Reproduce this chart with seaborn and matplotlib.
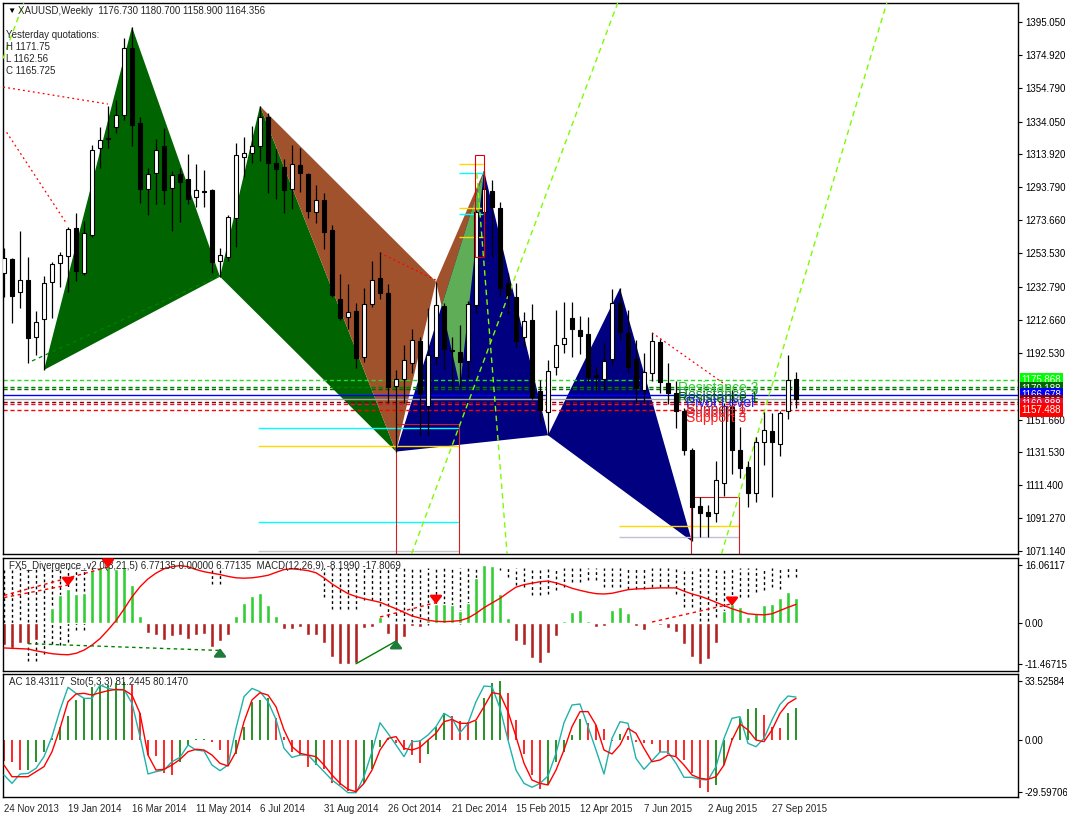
import numpy as np
import matplotlib
matplotlib.use("Agg")
import matplotlib.pyplot as plt
import matplotlib.transforms as mtransforms
from matplotlib.patches import Polygon, Rectangle
import seaborn as sns

sns.set_style("white")
plt.rcParams['font.family'] = ['Liberation Sans', 'DejaVu Sans']
plt.rcParams['axes.edgecolor'] = 'black'
plt.rcParams['axes.linewidth'] = 1.0

# weekly XAUUSD candles, week of 24 Nov 2013 .. week of 18 Oct 2015
opens = [1241.2, 1249.7, 1229.5, 1236.9, 1202.0, 1213.0, 1235.7, 1247.3, 1251.8, 1268.9,
         1241.2, 1264.4, 1317.7, 1324.2, 1331.0, 1338.0, 1379.0, 1333.0, 1292.6, 1302.4,
         1318.9, 1293.2, 1302.0, 1298.9, 1288.1, 1291.6, 1292.2, 1248.9, 1251.0, 1274.8,
         1312.6, 1315.0, 1318.9, 1336.7, 1308.7, 1306.3, 1292.6, 1307.5, 1302.0, 1278.5,
         1286.1, 1267.7, 1225.4, 1214.2, 1218.1, 1190.1, 1222.2, 1238.1, 1228.9, 1172.2,
         1176.3, 1186.1, 1199.7, 1160.0, 1189.7, 1221.2, 1194.2, 1192.8, 1187.3, 1221.8,
         1278.9, 1291.6, 1281.0, 1235.0, 1226.9, 1202.4, 1212.6, 1169.3, 1156.5, 1183.6,
         1197.7, 1213.6, 1206.5, 1203.8, 1178.7, 1176.3, 1188.5, 1222.8, 1204.4, 1188.5,
         1170.0, 1180.0, 1199.1, 1174.0, 1168.0, 1157.0, 1133.0, 1098.7, 1094.8, 1094.2,
         1113.0, 1159.5, 1133.0, 1122.4, 1106.5, 1138.1, 1144.6, 1136.5, 1157.0, 1176.73]
highs = [1256.5, 1250.3, 1267.1, 1251.2, 1218.1, 1239.5, 1247.9, 1254.2, 1269.7, 1277.9,
         1273.2, 1319.8, 1330.6, 1343.6, 1347.3, 1385.0, 1392.0, 1337.0, 1305.5, 1323.2,
         1329.9, 1304.0, 1305.5, 1314.0, 1307.9, 1304.4, 1292.6, 1256.5, 1276.7, 1321.0,
         1324.6, 1331.2, 1343.6, 1339.1, 1317.1, 1311.0, 1319.7, 1317.7, 1302.4, 1295.3,
         1290.1, 1270.8, 1241.0, 1234.6, 1222.8, 1232.0, 1248.7, 1254.0, 1234.6, 1182.0,
         1197.0, 1207.1, 1202.0, 1219.7, 1236.1, 1222.8, 1202.4, 1209.5, 1224.4, 1279.9,
         1304.0, 1298.3, 1285.0, 1241.2, 1235.0, 1217.7, 1222.4, 1176.0, 1188.1, 1218.7,
         1223.4, 1223.4, 1215.0, 1214.2, 1184.0, 1198.3, 1231.4, 1232.0, 1218.7, 1200.3,
         1192.2, 1204.4, 1200.7, 1186.0, 1175.0, 1159.0, 1134.0, 1104.4, 1099.3, 1126.3,
         1162.0, 1170.0, 1147.3, 1126.0, 1141.2, 1156.0, 1155.4, 1157.0, 1191.0, 1180.7]
lows = [1226.9, 1210.5, 1219.7, 1186.1, 1191.2, 1182.0, 1213.6, 1233.0, 1229.9, 1236.7,
        1240.1, 1263.6, 1305.9, 1317.7, 1326.9, 1335.0, 1319.0, 1284.4, 1276.7, 1283.4,
        1283.4, 1267.3, 1272.4, 1283.4, 1282.0, 1282.0, 1241.2, 1239.1, 1248.9, 1257.5,
        1300.4, 1308.5, 1310.1, 1290.6, 1286.5, 1278.3, 1280.7, 1291.2, 1274.8, 1271.8,
        1255.9, 1226.9, 1212.6, 1207.0, 1183.0, 1187.1, 1220.8, 1225.2, 1161.6, 1132.0,
        1162.0, 1180.0, 1142.0, 1142.0, 1185.0, 1182.4, 1171.8, 1171.8, 1177.0, 1216.7,
        1275.0, 1251.4, 1227.5, 1216.0, 1196.3, 1196.3, 1164.0, 1150.0, 1142.0, 1178.9,
        1192.2, 1190.0, 1192.0, 1174.8, 1170.0, 1170.0, 1185.0, 1200.3, 1180.0, 1162.0,
        1162.0, 1175.0, 1168.0, 1161.0, 1146.2, 1130.0, 1077.0, 1079.9, 1079.9, 1089.1,
        1105.0, 1118.0, 1116.0, 1097.9, 1101.4, 1124.0, 1104.0, 1129.3, 1152.0, 1158.9]
closes = [1250.3, 1227.5, 1236.9, 1201.4, 1211.1, 1235.0, 1246.7, 1252.2, 1268.1, 1242.8,
          1265.7, 1316.5, 1322.6, 1323.6, 1337.9, 1379.0, 1332.2, 1293.0, 1301.8, 1316.5,
          1292.4, 1301.2, 1297.3, 1286.9, 1292.2, 1291.2, 1248.3, 1252.2, 1275.5, 1313.6,
          1314.6, 1318.9, 1336.7, 1308.9, 1305.2, 1292.4, 1307.9, 1302.8, 1279.5, 1286.1,
          1266.7, 1227.9, 1214.0, 1217.3, 1189.5, 1222.2, 1236.9, 1229.3, 1171.8, 1176.7,
          1188.1, 1200.3, 1167.0, 1191.2, 1221.8, 1194.6, 1193.5, 1187.1, 1222.4, 1278.5,
          1292.6, 1282.0, 1232.4, 1227.9, 1199.7, 1212.0, 1165.6, 1157.5, 1181.4, 1197.3,
          1201.4, 1206.9, 1202.8, 1177.9, 1177.5, 1187.5, 1222.8, 1205.4, 1184.0, 1170.7,
          1180.5, 1199.5, 1174.8, 1168.0, 1157.0, 1133.0, 1098.3, 1094.6, 1092.8, 1114.6,
          1160.0, 1133.0, 1121.8, 1106.9, 1138.1, 1145.2, 1138.1, 1155.4, 1176.0, 1164.356]

date_ticks = [0, 8, 16, 24, 32, 40, 48, 56, 64, 72, 80, 88, 96]
date_labels = ["24 Nov 2013", "19 Jan 2014", "16 Mar 2014", "11 May 2014", "6 Jul 2014",
               "31 Aug 2014", "26 Oct 2014", "21 Dec 2014", "15 Feb 2015", "12 Apr 2015",
               "7 Jun 2015", "2 Aug 2015", "27 Sep 2015"]
price_ticks = [1395.050, 1374.920, 1354.790, 1334.050, 1313.920, 1293.790, 1273.660,
               1253.530, 1232.790, 1212.660, 1192.530, 1151.660, 1131.530, 1111.400,
               1091.270, 1071.140]

# harmonic patterns X, A, B, C, D  (bar index, price)
green_bars = [5, 16, 27, 32, 49]
green_px = [1182.0, 1392.0, 1239.1, 1343.6, 1132.0]
brown_bars = [32, 49, 54, 60, 57]
brown_px = [1343.6, 1132.0, 1236.1, 1304.0, 1171.8]
navy_bars = [49, 60, 68, 77, 86]
navy_px = [1132.0, 1304.0, 1142.0, 1232.0, 1077.0]

# pivot levels
level_px = [1175.868, 1171.75, 1170.188, 1166.678, 1164.356, 1162.56, 1160.888, 1157.488]
level_col = ['#22DD22', '#008000', '#006400', '#0000FF', '#A0A0A0', '#8B0000', '#DC143C', '#FF0000']
level_ls = ['--', '--', '--', '-', '-', '--', '--', '--']
level_names = ["Resistance 3", "Resistance 2", "Resistance 1", "Pivot Level", None,
               "Support 1", "Support 2", "Support 3"]
level_name_col = ['#32CD32', '#2E8B57', '#006400', '#2020FF', None, '#B22222', '#E0304E', '#FF2020']
tag_px = [1175.868, 1170.188, 1166.678, 1162.56, 1160.888, 1157.488]
tag_col = ['#00FF00', '#006400', '#0000FF', '#8B0000', '#DC143C', '#FF0000']

# FX5 divergence histogram + red line + dotted marks
div_hist = [-6.3, -7.0, -5.7, -6.0, -4.7, 0.3, 4.2, 7.6, 9.3, 8.1,
            8.3, 14.7, 15.5, 15.9, 14.9, 15.6, 10.4, 2.0, -2.8, -3.3,
            -4.9, -3.8, -3.5, -4.5, -3.5, -3.1, -6.6, -5.1, -3.3, 1.8,
            5.6, 7.4, 8.2, 5.0, 2.0, -1.7, -1.7, -1.2, -3.5, -3.5,
            -5.7, -9.5, -11.4, -11.4, -11.3, -1.4, -1.2, 1.6, -3.1, -6.3,
            -4.0, -1.0, -1.2, 0.9, 5.3, 5.3, 5.0, 3.3, 5.6, 12.5,
            16.06, 15.7, 8.1, 1.4, -5.2, -6.2, -9.8, -11.2, -8.3, -3.8,
            0.6, 3.1, 3.6, 0.6, -1.2, -1.0, 3.6, 4.5, 2.8, -1.0,
            -2.1, 0.3, -0.7, -1.5, -2.7, -5.8, -9.6, -11.47, -10.0, -5.6,
            3.2, 5.3, 4.4, 1.6, 2.7, 5.0, 5.3, 6.9, 8.6, 6.77]
div_line = [-7.0, -7.1, -7.2, -7.3, -7.8, -8.2, -8.6, -8.8, -8.9, -8.5,
            -7.6, -6.2, -4.4, -2.0, 0.6, 3.8, 7.2, 10.0, 12.2, 13.8,
            15.0, 15.6, 15.9, 15.6, 14.8, 14.2, 13.8, 13.4, 12.9, 12.5,
            12.4, 12.5, 12.8, 13.2, 14.0, 14.8, 15.0, 14.8, 14.5, 13.9,
            12.5, 10.8, 9.4, 8.1, 7.3, 6.7, 6.2, 5.7, 4.8, 3.9,
            2.9, 1.9, 1.3, 0.7, 0.4, 0.3, 0.4, 0.6, 1.3, 2.6,
            4.2, 5.5, 6.8, 8.4, 9.9, 10.6, 11.0, 11.4, 11.6, 11.1,
            10.4, 9.6, 9.0, 8.5, 8.1, 8.0, 8.2, 8.7, 9.2, 9.4,
            9.5, 9.6, 9.7, 9.7, 9.7, 8.8, 8.0, 7.4, 6.6, 5.7,
            4.8, 3.9, 3.2, 2.5, 2.3, 2.2, 2.5, 3.4, 4.3, 5.1]
nan = float('nan')
dot_low = [-6.3, -6.3, -5.4, -10.7, -10.7, -8.6, -5.8, -6.3, -5.4, -2.1,
           -2.1, 14.6, nan, nan, nan, nan, nan, nan, nan, nan,
           nan, nan, nan, nan, nan, nan, 10.8, 10.8, nan, nan,
           nan, nan, nan, nan, nan, nan, nan, nan, nan, nan,
           7.1, 3.9, 3.9, 3.9, 3.9, 6.2, 6.2, 4.8, 1.6, 0.6,
           0.6, 0.2, 0.2, -0.7, 0.2, 0.6, 3.4, -0.3, 0.6, 3.4,
           14.6, 14.6, 14.6, 12.7, 10.4, 9.9, 7.6, 7.6, 8.1, 9.0,
           9.9, 11.3, 11.3, 11.8, 11.8, 9.9, 9.9, 9.9, 9.5, 9.5,
           9.5, 9.9, 9.9, 9.9, 8.1, 4.4, 4.4, 0.6, 0.6, 1.6,
           3.0, 6.2, 7.1, 7.1, 8.5, 9.0, 9.9, 9.5, 12.7, 12.7]

# accelerator oscillator + stochastic (5,3,3)
ac_vals = [-12.0, -12.3, -17.1, -17.0, -12.3, -6.6, 1.0, 7.6, 13.6, 22.7,
           23.7, 30.3, 30.8, 31.5, 32.2, 33.0, 31.3, 15.2, -8.5, -9.0,
           -18.9, -19.5, -12.3, -2.8, 0.5, 0.8, -1.0, -5.7, -14.2, -7.6,
           7.6, 21.8, 22.7, 23.7, 12.3, 1.9, -6.6, -8.5, -15.2, -14.0,
           -16.1, -24.6, -25.5, -29.0, -29.5, -24.6, -16.1, -4.0, 1.0, -1.9,
           -5.7, -8.5, -12.9, -7.6, 7.6, 15.2, 13.6, 11.0, 10.4, 11.0,
           23.7, 32.2, 33.53, 26.5, 11.4, -7.6, -19.9, -27.5, -25.6, -12.3,
           -6.6, 2.8, 11.8, 9.9, 8.5, 6.1, -0.5, 3.4, 2.5, -1.0,
           -1.5, -2.0, -6.6, -7.6, -9.1, -11.4, -18.6, -26.9, -29.6, -25.6,
           -14.2, 1.0, 12.3, 17.4, 18.0, 14.2, 7.2, 6.8, 15.2, 18.43]
sto_main = [17.9, 11.1, 18.7, 19.2, 23.3, 32.8, 49.1, 70.7, 89.2, 84.3,
            80.2, 80.2, 91.1, 88.3, 87.0, 87.5, 76.2, 49.1, 18.7, 20.6,
            21.9, 28.7, 32.2, 42.3, 38.2, 37.4, 26.0, 21.4, 26.0, 55.8,
            81.6, 88.3, 85.6, 77.5, 63.1, 39.6, 32.2, 34.1, 34.1, 27.4,
            20.6, 13.8, 8.9, 3.5, 3.5, 16.5, 36.8, 60.4, 51.7, 42.3,
            32.8, 45.0, 45.5, 50.4, 57.2, 68.0, 64.0, 52.3, 59.9, 77.5,
            90.2, 89.7, 72.1, 46.3, 21.9, 11.1, 7.9, 11.1, 17.1, 35.5,
            60.4, 74.8, 75.6, 57.2, 38.2, 18.7, 47.7, 61.2, 59.9, 31.4,
            22.5, 29.5, 36.6, 36.6, 27.4, 16.0, 16.0, 14.4, 13.8, 24.7,
            47.7, 64.0, 65.3, 43.6, 40.9, 47.7, 62.6, 75.3, 82.1, 81.24]
sto_sig = [26.0, 16.5, 16.5, 16.5, 20.6, 24.7, 36.8, 55.8, 77.5, 83.7,
           84.3, 82.9, 84.8, 86.4, 87.5, 87.0, 82.9, 68.0, 34.1, 21.9,
           22.5, 26.0, 30.6, 36.8, 38.8, 38.2, 34.1, 27.4, 25.2, 36.8,
           61.2, 78.9, 84.8, 82.9, 73.4, 54.5, 40.9, 35.5, 34.1, 32.8,
           26.0, 17.9, 11.1, 6.2, 4.3, 11.1, 21.9, 38.2, 47.7, 49.1,
           39.6, 38.2, 40.4, 46.3, 51.8, 61.2, 63.1, 59.9, 59.9, 62.6,
           73.4, 84.8, 83.7, 69.4, 49.1, 27.4, 13.8, 11.1, 9.8, 21.9,
           38.2, 57.2, 69.4, 69.4, 58.5, 38.2, 35.0, 42.3, 55.8, 51.8,
           39.6, 28.7, 30.1, 34.1, 32.8, 26.0, 17.9, 15.2, 14.4, 16.5,
           26.0, 46.3, 59.3, 54.5, 46.3, 45.0, 54.5, 68.0, 76.2, 80.15]

bars = np.arange(len(opens))
O, H, Lo, C = map(np.array, (opens, highs, lows, closes))

fig = plt.figure(figsize=(10.67, 8.17), dpi=100)
left, width = 3 / 1067, 1015 / 1067
ax1 = fig.add_axes([left, 1 - 554 / 817, width, 551 / 817])
ax2 = fig.add_axes([left, 1 - 671 / 817, width, 113 / 817])
ax3 = fig.add_axes([left, 1 - 797 / 817, width, 123 / 817])
xlim = (-0.125, 126.75)

# ---- main price panel ----
def tri(xs, ps, idx, color, z=1):
    p = Polygon([(xs[i], ps[i]) for i in idx], closed=True, fc=color, ec='none', zorder=z)
    ax1.add_patch(p)
    return p

tri(green_bars, green_px, [0, 1, 2], '#006400')
tri(green_bars, green_px, [2, 3, 4], '#006400')
tri(brown_bars, brown_px, [0, 1, 2], '#A0522D')
tri(brown_bars, brown_px, [2, 3, 4], '#A0522D')
navy1 = tri(navy_bars, navy_px, [0, 1, 2], '#000080')
tri(navy_bars, navy_px, [2, 3, 4], '#000080')
overlap = tri(brown_bars, brown_px, [2, 3, 4], '#5FAD56', z=1.5)
overlap.set_clip_path(navy1)

for p, c, s in zip(level_px, level_col, level_ls):
    ax1.axhline(p, color=c, ls=s if s == '-' else (0, (3, 2)), lw=1, zorder=2)

# fib levels and boxes
for p, c in zip([1146.4, 1135.4, 1088.9, 1071.1], ['#00FFFF', '#FFD700', '#00FFFF', '#C8C8C8']):
    ax1.hlines(p, 31.75, 56.9, color=c, lw=1, zorder=2)
for p, c in zip([1086.4, 1079.7], ['#FFD700', '#C0C0D8']):
    ax1.hlines(p, 76.9, 91.9, color=c, lw=1, zorder=2)
for p, c in zip([1308.1, 1302.6, 1281.2, 1277.5, 1263.4],
                ['#FFD700', '#00FFFF', '#FFD700', '#00FFFF', '#FFD700']):
    ax1.hlines(p, 56.9, 59.9, color=c, lw=1, zorder=2)
ax1.add_patch(Rectangle((49, 1050), 7.9, 1148.9 - 1050, fill=False, ec='#D02020', lw=0.8, zorder=2))
ax1.add_patch(Rectangle((85.9, 1050), 6.0, 1104.2 - 1050, fill=False, ec='#D02020', lw=0.8, zorder=2))
ax1.add_patch(Rectangle((58.9, 1251.1), 1.1, 1313.6 - 1251.1, fill=False, ec='#E00000', lw=0.8, zorder=7))

# trend lines
red_dots = [((-0.1, 1355.2), (13, 1344.8)), ((0.33, 1327.5), (7.8, 1271.8)),
            ((47, 1253.6), (54, 1237.0)), ((81, 1204.8), (90.4, 1172.2))]
for a, b in red_dots:
    ax1.plot([a[0], b[0]], [a[1], b[1]], color='red', lw=0.9, ls=(0, (1.5, 2.5)), zorder=3)
ax1.plot([3.5, 27], [1187.5, 1239.8], color='#008000', lw=0.9, ls=(0, (3, 3)), zorder=1.2)
lime = '#7CFC00'
ax1.axline((57.2, 1151.3), (70.3, 1322.8), color=lime, lw=1, ls=(0, (4, 3)), zorder=3)
ax1.axline((-0.1, 1373.0), (2.0, 1400.6), color=lime, lw=1, ls=(0, (4, 3)), zorder=3)
ax1.axline((89.7, 1069.7), (96.2, 1175.8), color=lime, lw=1, ls=(0, (4, 3)), zorder=3)
ax1.plot([59.1, 63.2], [1302.4, 1050], color=lime, lw=1, ls=(0, (4, 3)), zorder=3)

# candles
up = C >= O
ax1.vlines(bars, Lo, H, color='black', lw=0.9, zorder=5)
ax1.bar(bars, np.maximum(np.abs(C - O), 0.3), bottom=np.minimum(O, C), width=0.62,
        color=np.where(up, 'white', 'black'), edgecolor='black', linewidth=0.8, zorder=6)

for p, n, c in zip(level_px, level_names, level_name_col):
    if n is None:
        continue
    xpos = 84.25 if n.startswith("Res") else 85.25
    ax1.text(xpos, p - 0.8, n, color=c, fontsize=10, va='top', ha='left', zorder=8)

ax1.set_xlim(*xlim)
ax1.set_ylim(1069.31, 1406.68)
ax1.yaxis.tick_right()
ax1.set_yticks(price_ticks)
ax1.set_yticklabels([f"{v:.3f}" for v in price_ticks])
ax1.set_xticks([])

tr = mtransforms.blended_transform_factory(ax1.transAxes, ax1.transData)
for p, c in zip(tag_px, tag_col):
    ax1.text(1.0035, p, f"{p:.3f}", transform=tr, color='white', fontsize=7, va='center',
             ha='left', clip_on=False, bbox=dict(boxstyle='square,pad=0.18', fc=c, ec='none'))

ax1.text(0.0045, 0.9855, "\u25BC", transform=ax1.transAxes, fontsize=6, va='center', color='black')
ax1.text(0.0148, 0.9855, "XAUUSD,Weekly  1176.730 1180.700 1158.900 1164.356",
         transform=ax1.transAxes, fontsize=7, va='center')
for i, t in enumerate(["Yesterday quotations:", "H 1171.75", "L 1162.56", "C 1165.725"]):
    ax1.text(0.003, 0.9420 - i * 0.0218, t, transform=ax1.transAxes, fontsize=7, va='center')

# ---- FX5 divergence / MACD panel ----
ax2.bar(bars, div_hist, width=0.5, color=['#32CD32' if v > 0 else '#B22222' for v in div_hist], zorder=2)
dl = np.array(dot_low)
ok = ~np.isnan(dl)
ax2.vlines(bars[ok], dl[ok], 15.2, color='black', lw=1, ls=(0, (2, 2)), zorder=1)
sns.lineplot(x=bars, y=div_line, ax=ax2, color='red', lw=1, zorder=3)
for (xa, ya), (xb, yb) in [((0, 7.0), (8, 10.5)), ((0, 7.6), (13, 15.5)),
                           ((47, 1.6), (54, 5.6)), ((81, 0.2), (91, 5.3))]:
    ax2.plot([xa, xb], [ya, yb], color='red', lw=1, ls=(0, (2.5, 2.5)), zorder=3)
ax2.plot([3, 27], [-5.8, -7.7], color='#008000', lw=1, ls=(0, (2.5, 2.5)), zorder=3)
ax2.plot([44, 49], [-11.4, -5.1], color='#008000', lw=1, zorder=3)
for xb, tip in [(8, 9.4), (13, 14.5), (54, 4.4), (91, 3.9)]:
    ax2.annotate('', xy=(xb, tip), xytext=(xb, tip + 2.8),
                 arrowprops=dict(arrowstyle='-|>,head_width=0.35,head_length=0.45', color='red', lw=1.8),
                 zorder=4)
for xb, tip in [(27, -6.3), (49, -4.0)]:
    ax2.annotate('', xy=(xb, tip), xytext=(xb, tip - 2.6),
                 arrowprops=dict(arrowstyle='-|>,head_width=0.35,head_length=0.45', color='#1E7B3A', lw=1.8),
                 zorder=4)
ax2.set_xlim(*xlim)
ax2.set_ylim(-13.41, 18.01)
ax2.yaxis.tick_right()
ax2.set_yticks([16.06117, 0.0, -11.46715])
ax2.set_yticklabels(["16.06117", "0.00", "-11.46715"])
ax2.set_xticks([])
ax2.set_xlabel('')
ax2.set_ylabel('')
ax2.text(0.006, 0.93, "FX5_Divergence_v2.0(8,21,5) 6.77135 0.00000 6.77135  MACD(12,26,9) -8.1990 -17.8069",
         transform=ax2.transAxes, fontsize=7, va='center')

# ---- AC + stochastic panel ----
ac = np.array(ac_vals)
ac_col = ['#008000' if i > 0 and ac[i] > ac[i - 1] else '#FF0000' for i in range(len(ac))]
ax3.vlines(bars, 0, ac, colors=ac_col, lw=1.2, zorder=1)

ax3b = ax3.twinx()
sns.lineplot(x=bars, y=sto_main, ax=ax3b, color='#20B2AA', lw=1)
sns.lineplot(x=bars, y=sto_sig, ax=ax3b, color='red', lw=1)
ax3b.set_xlim(*xlim)
ax3b.set_ylim(0, 100)
ax3b.set_axis_off()

ax3.set_xlim(*xlim)
ax3.set_ylim(-32.26, 37.50)
ax3.yaxis.tick_right()
ax3.set_yticks([33.52584, 0.0, -29.59706])
ax3.set_yticklabels(["33.52584", "0.00", "-29.59706"])
ax3.set_xticks(date_ticks)
ax3.set_xticklabels(date_labels, ha='left')
ax3.text(0.006, 0.935, "AC 18.43117  Sto(5,3,3) 81.2445 80.1470", transform=ax3.transAxes,
         fontsize=7, va='center', zorder=5)

for ax in (ax1, ax2, ax3):
    ax.tick_params(axis='y', direction='out', length=3, labelsize=7, pad=2, colors='black',
                   left=False, labelleft=False, right=True, labelright=True)
    ax.tick_params(axis='x', direction='out', length=3, labelsize=7, pad=2)
    for s in ax.spines.values():
        s.set_visible(True)
        s.set_color('black')

fig.savefig("out.png", dpi=100, facecolor='white')
